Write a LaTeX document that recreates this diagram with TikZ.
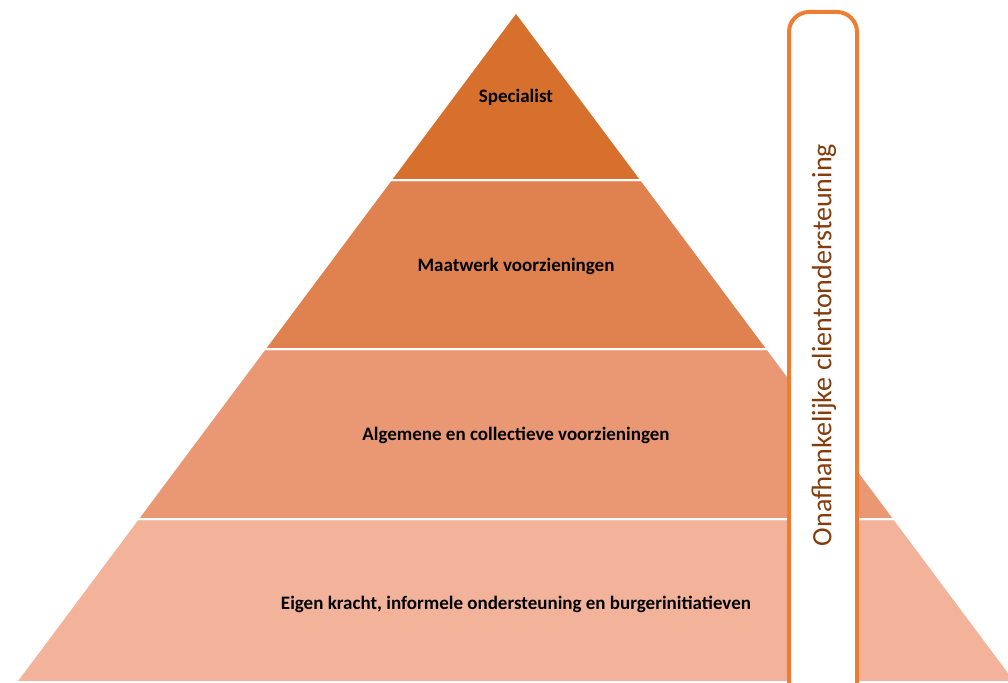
\documentclass[tikz,border=0pt]{standalone}
\usepackage{fontspec}
\setmainfont{Carlito}
\usepackage{tikz}
\usetikzlibrary{calc}
\definecolor{lvltop}{HTML}{D6702C}
\definecolor{lvltwo}{HTML}{E08250}
\definecolor{lvlthree}{HTML}{EA9874}
\definecolor{lvlbase}{HTML}{F2B39A}
\definecolor{boxorange}{HTML}{ED7D31}
\definecolor{sidetext}{HTML}{843C0C}
\tikzset{
  layer/.style={draw=white, line width=2pt},
  lab/.style={font=\bfseries\fontsize{19}{22}\selectfont, text=black},
  sidebox/.style={draw=boxorange, line width=4pt, fill=white, rounded corners=20pt},
  sidelab/.style={font=\fontsize{28}{32}\selectfont, text=sidetext, rotate=90}
}
\begin{document}
\begin{tikzpicture}[x=1pt,y=-1pt]
  \useasboundingbox (0,0) rectangle (1008,682);
  \clip (0,0) rectangle (1008,682);

  % pyramid corners
  \coordinate (T) at (516,12);
  \coordinate (L1) at (390.6,180); \coordinate (R1) at (641.4,180);
  \coordinate (L2) at (264.5,349); \coordinate (R2) at (767.5,349);
  \coordinate (L3) at (137.6,519); \coordinate (R3) at (894.4,519);
  \coordinate (L4) at (16,682);    \coordinate (R4) at (1016,682);

  \filldraw[layer, fill=lvlbase] (L3)--(R3)--(R4)--(L4)--cycle;
  \filldraw[layer, fill=lvlthree] (L2)--(R2)--(R3)--(L3)--cycle;
  \filldraw[layer, fill=lvltwo] (L1)--(R1)--(R2)--(L2)--cycle;
  \filldraw[layer, fill=lvltop] (T)--(R1)--(L1)--cycle;

  \node[lab] (spec) at (516,97) {Specialist};
  \node[lab] (maat) at (516,266) {Maatwerk voorzieningen};
  \node[lab] (alg) at (516,435) {Algemene en collectieve voorzieningen};
  \node[lab] (eigen) at (516,604) {Eigen kracht, informele ondersteuning en burgerinitiatieven};

  % side bar
  \draw[sidebox] (789,12) rectangle (857,720);
  \node[sidelab] (side) at (824,345) {Onafhankelijke clientondersteuning};
\end{tikzpicture}
\end{document}
